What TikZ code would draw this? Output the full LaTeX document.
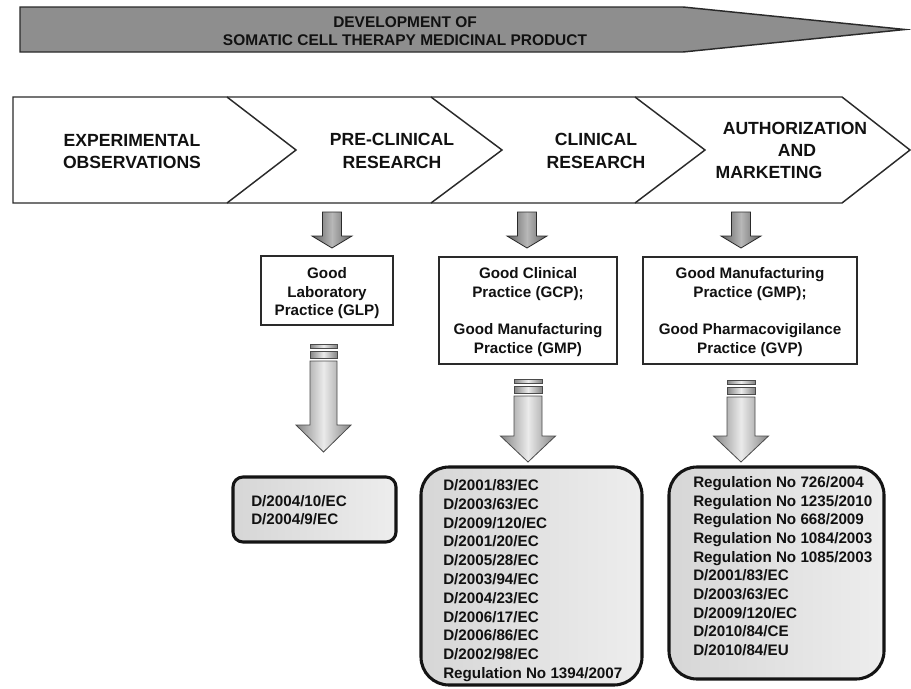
\documentclass[tikz,border=0pt]{standalone}
\usepackage{fontspec}
\setmainfont{Liberation Sans}
\usetikzlibrary{calc,fit}

\definecolor{edge}{HTML}{2A2A2A}
\definecolor{titlegray}{HTML}{8E8E8E}
\definecolor{ink}{HTML}{111111}

% Down-pointing block arrow between a named top point and a named tip
% #1 top, #2 tip, #3 head length, #4 half shaft width, #5 half head width, #6 style
\newcommand{\blockdown}[6]{%
  \path[#6] ($(#1)+(-#4,0)$) -- ($(#1)+(#4,0)$) -- ($(#2)+(#4,-#3)$)
    -- ($(#2)+(#5,-#3)$) -- (#2) -- ($(#2)+(-#5,-#3)$) -- ($(#2)+(-#4,-#3)$) -- cycle;}
% Same arrow with two thin bars above the shaft
\newcommand{\stripeddown}[6]{%
  \path[#6] ($(#1)+(-#4,0)$) rectangle ($(#1)+(#4,4)$);
  \path[#6] ($(#1)+(-#4,7)$) rectangle ($(#1)+(#4,14)$);
  \blockdown{$(#1)+(0,17)$}{#2}{#3}{#4}{#5}{#6}}

\begin{document}
\begin{tikzpicture}[x=0.75pt,y=-0.75pt,
  titletext/.style={font=\bfseries\fontsize{11.6pt}{14pt}\selectfont, text=ink, inner sep=0pt, anchor=base},
  stagetext/.style={font=\bfseries\fontsize{13.2pt}{16pt}\selectfont, text=ink, inner sep=0pt, anchor=base},
  boxtext/.style={font=\bfseries\fontsize{11.4pt}{14pt}\selectfont, text=ink, inner sep=0pt, anchor=base},
  lawtext/.style={boxtext, anchor=base west},
  practice/.style={draw=edge, line width=1.1pt, fill=white, inner sep=0pt},
  lawbox/.style={draw=black!92, line width=2.3pt, left color=black!16, right color=black!7, inner sep=0pt},
  fatarrow/.style={draw=edge!85, line width=0.6pt, left color=black!48, right color=black!48, middle color=black!8},
  slimarrow/.style={draw=edge, line width=0.6pt, left color=black!62, right color=black!62, middle color=black!28},
  outline/.style={draw=edge, line width=1.1pt}]
\useasboundingbox (0,0) rectangle (911,689);

% Title arrow
\path[outline, fill=titlegray] (20,7) -- (683,7) -- (905,29.5) -- (683,52) -- (20,52) -- cycle;
\node[titletext] (title1) at (405,27.5) {DEVELOPMENT OF};
\node[titletext] (title2) at (405,45.5) {SOMATIC CELL THERAPY MEDICINAL PRODUCT};

% Stage band with chevron dividers
\path[outline, fill=white] (13,97) -- (842,97) -- (910,150) -- (842,203) -- (13,203) -- cycle;
\draw[outline] (227,97) -- (296,150) -- (227,203);
\draw[outline] (431,97) -- (502,150) -- (431,203);
\draw[outline] (635,97) -- (705,150) -- (635,203);

\node[stagetext] (exp1) at (132,146.3) {EXPERIMENTAL};
\node[stagetext] (exp2) at (132,168.3) {OBSERVATIONS};
\node[stagetext] (pre1) at (392,145.5) {PRE-CLINICAL};
\node[stagetext] (pre2) at (392,168.3) {RESEARCH};
\node[stagetext] (cli1) at (596,145.5) {CLINICAL};
\node[stagetext] (cli2) at (596,168.3) {RESEARCH};
\node[stagetext] (aut1) at (795,134.3) {AUTHORIZATION};
\node[stagetext] (aut2) at (797,156.3) {AND};
\node[stagetext] (aut3) at (769,178.3) {MARKETING};

% Small arrows from the stages to the practice boxes
\coordinate (s1top) at (332,212);  \coordinate (s1tip) at (332,248);
\coordinate (s2top) at (527,212);  \coordinate (s2tip) at (527,248);
\coordinate (s3top) at (741,212);  \coordinate (s3tip) at (741,248);
\blockdown{s1top}{s1tip}{12}{9.5}{20}{slimarrow}
\blockdown{s2top}{s2tip}{12}{9.5}{20}{slimarrow}
\blockdown{s3top}{s3tip}{12}{9.5}{20}{slimarrow}

% Practice boxes
\node[practice, fit={(261,256) (393,325)}] (glp) {};
\node[practice, fit={(439,257) (617,364)}] (gcp) {};
\node[practice, fit={(643,257) (857,364)}] (gvp) {};

\node[boxtext] (glp1) at (327,278.5) {Good};
\node[boxtext] (glp2) at (327,297) {Laboratory};
\node[boxtext] (glp3) at (327,315.5) {Practice (GLP)};

\node[boxtext] (gcp1) at (528,278.5) {Good Clinical};
\node[boxtext] (gcp2) at (528,297.5) {Practice (GCP);};
\node[boxtext] (gcp3) at (528,334.5) {Good Manufacturing};
\node[boxtext] (gcp4) at (528,353.5) {Practice (GMP)};

\node[boxtext] (gvp1) at (750,278.5) {Good Manufacturing};
\node[boxtext] (gvp2) at (750,297.5) {Practice (GMP);};
\node[boxtext] (gvp3) at (750,334.5) {Good Pharmacovigilance};
\node[boxtext] (gvp4) at (750,353.5) {Practice (GVP)};

% Large arrows from the practice boxes to the legislation lists
\coordinate (b1top) at (323.5,344); \coordinate (b1tip) at (323.5,452);
\coordinate (b2top) at (528,379);   \coordinate (b2tip) at (528,462);
\coordinate (b3top) at (741,380);   \coordinate (b3tip) at (741,462);
\stripeddown{b1top}{b1tip}{27}{13.5}{27.5}{fatarrow}
\stripeddown{b2top}{b2tip}{26}{14}{27.5}{fatarrow}
\stripeddown{b3top}{b3tip}{26}{14}{27.5}{fatarrow}

% Legislation lists
\node[lawbox, rounded corners=7.5pt, fit={(233,477) (396,542)}] (lawsA) {};
\node[lawbox, rounded corners=21pt, fit={(421,467) (642,685)}] (lawsB) {};
\node[lawbox, rounded corners=21pt, fit={(669,467) (884,679)}] (lawsC) {};

\node[lawtext] (lawA1) at (251,506.5) {D/2004/10/EC};
\node[lawtext] (lawA2) at (251,524.5) {D/2004/9/EC};

\foreach \law [count=\i] in {D/2001/83/EC, D/2003/63/EC, D/2009/120/EC, D/2001/20/EC,
    D/2005/28/EC, D/2003/94/EC, D/2004/23/EC, D/2006/17/EC, D/2006/86/EC,
    D/2002/98/EC, Regulation No 1394/2007}
  \node[lawtext] (lawB\i) at (443,{490.5+18.8*(\i-1)}) {\law};

\foreach \law [count=\i] in {Regulation No 726/2004, Regulation No 1235/2010,
    Regulation No 668/2009, Regulation No 1084/2003, Regulation No 1085/2003,
    D/2001/83/EC, D/2003/63/EC, D/2009/120/EC, D/2010/84/CE, D/2010/84/EU}
  \node[lawtext] (lawC\i) at (693,{487.5+18.67*(\i-1)}) {\law};
\end{tikzpicture}
\end{document}
